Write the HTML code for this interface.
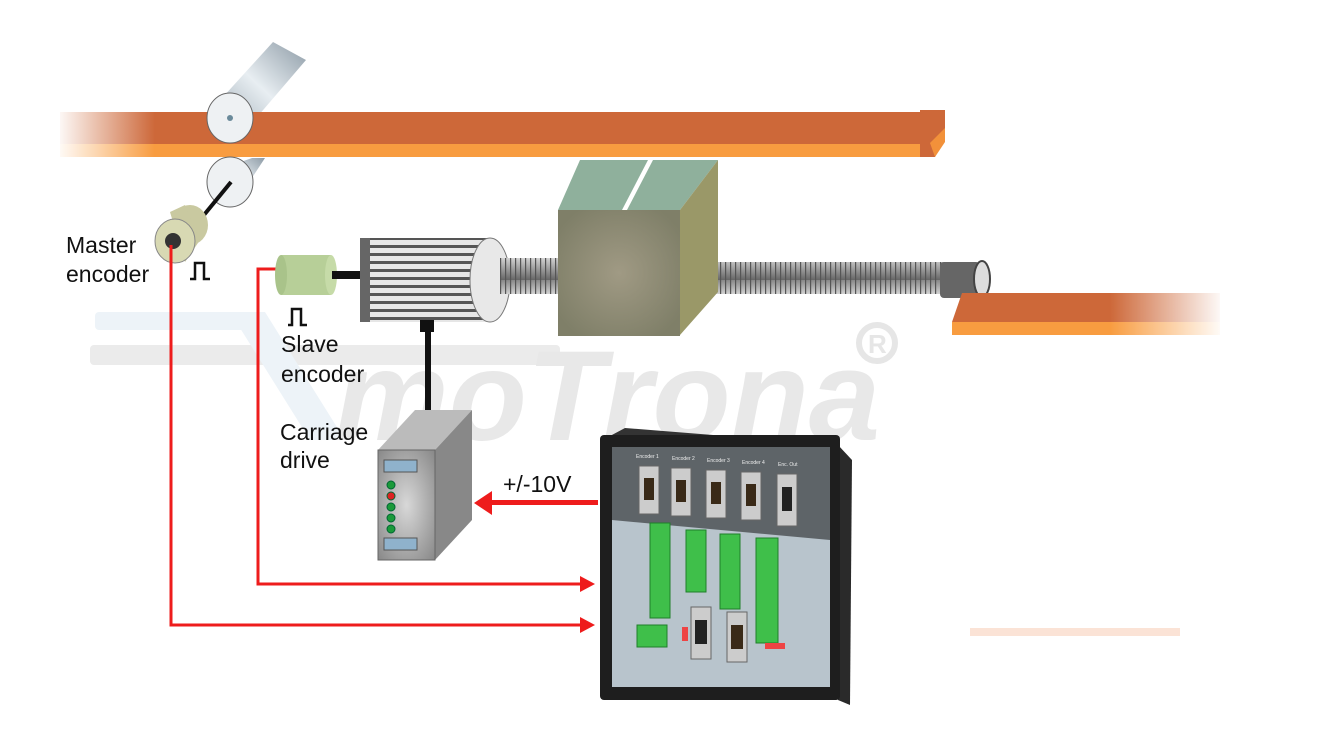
<!DOCTYPE html>
<html><head><meta charset="utf-8"><style>
html,body{margin:0;padding:0;background:#fff;width:1320px;height:738px;overflow:hidden}
text{font-family:"Liberation Sans",sans-serif}
</style></head><body>
<svg width="1320" height="738" viewBox="0 0 1320 738" xmlns="http://www.w3.org/2000/svg">
<defs>
<linearGradient id="fadeL" x1="0" x2="1"><stop offset="0" stop-color="#fff" stop-opacity="1"/><stop offset="1" stop-color="#fff" stop-opacity="0"/></linearGradient>
<linearGradient id="fadeR" x1="0" x2="1"><stop offset="0" stop-color="#fff" stop-opacity="0"/><stop offset="1" stop-color="#fff" stop-opacity="1"/></linearGradient>
<linearGradient id="roll" x1="0" y1="1" x2="1" y2="0"><stop offset="0" stop-color="#9aa8b2"/><stop offset=".5" stop-color="#e8eef2"/><stop offset="1" stop-color="#8d9ba6"/></linearGradient>
<linearGradient id="screw" x1="0" y1="0" x2="0" y2="1"><stop offset="0" stop-color="#888"/><stop offset=".4" stop-color="#ddd"/><stop offset="1" stop-color="#666"/></linearGradient>
<radialGradient id="box" cx=".5" cy=".5" r=".6"><stop offset="0" stop-color="#a09a84"/><stop offset="1" stop-color="#7f7f68"/></radialGradient>
<radialGradient id="drv" cx=".5" cy=".5" r=".7"><stop offset="0" stop-color="#d8d8d8"/><stop offset="1" stop-color="#888"/></radialGradient>
<pattern id="rib" width="5" height="40" patternUnits="userSpaceOnUse"><rect width="5" height="40" fill="url(#screw)"/><rect width="1.2" height="40" fill="#555"/></pattern>
<pattern id="fins" width="6" height="8" patternUnits="userSpaceOnUse"><rect width="6" height="8" fill="#e6e6e6"/><rect y="5" width="6" height="3" fill="#555"/></pattern>
</defs>

<!-- watermark -->
<g>
<rect x="90" y="345" width="470" height="20" rx="4" fill="#ebebeb"/>
<rect x="95" y="312" width="150" height="18" fill="#edf3f8" rx="4"/>
<polygon points="230,312 265,312 345,440 310,440" fill="#edf3f8"/>
<text x="335" y="440" font-size="128" font-weight="bold" font-style="italic" fill="#e8e8e8" textLength="545" lengthAdjust="spacingAndGlyphs">moTrona</text>
<circle cx="877" cy="343" r="18" fill="none" stroke="#e6e6e6" stroke-width="6"/>
<text x="868" y="353" font-size="26" font-weight="bold" fill="#e6e6e6">R</text>
</g>
<rect x="970" y="628" width="210" height="8" fill="#fbe3d6"/>

<!-- top roller -->
<polygon points="213,108 273,42 306,60 246,130" fill="url(#roll)"/>
<!-- top bar -->
<rect x="60" y="112" width="875" height="32" fill="#cd6839"/>
<rect x="60" y="144" width="875" height="13" fill="#f89c40"/>
<polygon points="920,110 945,110 945,130 935,157 920,157" fill="#cd6839"/>
<polygon points="930,143 945,128 945,142 935,157" fill="#f2913a"/>
<rect x="55" y="108" width="100" height="52" fill="url(#fadeL)"/>
<ellipse cx="230" cy="118" rx="23" ry="25" fill="#eef1f3" stroke="#666"/>
<circle cx="230" cy="118" r="3" fill="#6a8a9a"/>
<!-- bottom roller -->
<polygon points="218,170 252,158 265,158 240,196" fill="url(#roll)"/>
<ellipse cx="230" cy="182" rx="23" ry="25" fill="#eef1f3" stroke="#666"/>
<line x1="231" y1="182" x2="190" y2="232" stroke="#111" stroke-width="4"/>
<!-- master encoder -->
<ellipse cx="190" cy="225" rx="18" ry="20" fill="#c9c9a0"/>
<polygon points="170,212 185,205 200,240 185,262" fill="#c9c9a0"/>
<ellipse cx="175" cy="241" rx="20" ry="22" fill="#d8d9b3" stroke="#888"/>
<circle cx="173" cy="241" r="8" fill="#333"/>
<text x="66" y="253" font-size="23" fill="#111">Master</text>
<text x="66" y="282" font-size="23" fill="#111">encoder</text>
<path d="M190,279 h5 v-16 h9 v16 h6" fill="none" stroke="#111" stroke-width="2.5"/>

<!-- red lines -->
<polyline points="171,245 171,625 580,625" fill="none" stroke="#ee1c1c" stroke-width="3"/>
<polygon points="580,617 595,625 580,633" fill="#ee1c1c"/>
<polyline points="278,269 258,269 258,584 580,584" fill="none" stroke="#ee1c1c" stroke-width="3"/>
<polygon points="580,576 595,584 580,592" fill="#ee1c1c"/>

<!-- slave encoder -->
<rect x="281" y="255" width="50" height="40" fill="#b7cf98"/>
<ellipse cx="281" cy="275" rx="6" ry="20" fill="#a9c38a"/>
<ellipse cx="331" cy="275" rx="6" ry="20" fill="#c6dba8"/>
<rect x="332" y="271" width="30" height="8" fill="#111"/>
<path d="M288,325 h4 v-16 h9 v16 h6" fill="none" stroke="#111" stroke-width="2.5"/>
<text x="281" y="352" font-size="23" fill="#111">Slave</text>
<text x="281" y="382" font-size="23" fill="#111">encoder</text>

<!-- motor -->
<rect x="360" y="238" width="130" height="84" fill="url(#fins)"/>
<rect x="360" y="238" width="10" height="84" fill="#666"/>
<ellipse cx="490" cy="280" rx="20" ry="42" fill="#e8e8e8" stroke="#777"/>
<rect x="420" y="320" width="14" height="12" fill="#111"/>
<rect x="425" y="330" width="6" height="90" fill="#111"/>
<rect x="421" y="410" width="14" height="12" fill="#111"/>

<!-- screw -->
<rect x="500" y="258" width="60" height="36" fill="url(#rib)"/>
<rect x="690" y="262" width="260" height="32" fill="url(#rib)"/>
<rect x="940" y="262" width="40" height="36" fill="#666" rx="4"/>
<ellipse cx="982" cy="279" rx="8" ry="18" fill="#ddd" stroke="#444" stroke-width="2"/>

<!-- carriage box -->
<polygon points="558,210 580,160 718,160 680,210" fill="#8fb09c"/>
<polygon points="622,210 648,160 653,160 627,210" fill="#fff"/>
<polygon points="680,210 718,160 718,292 680,335" fill="#9a9868"/>
<rect x="558" y="210" width="122" height="126" fill="url(#box)"/>

<!-- lower right bar -->
<polygon points="962,293 1220,293 1220,322 952,322" fill="#cd6839"/>
<rect x="952" y="322" width="268" height="13" fill="#f89c40"/>
<rect x="1110" y="290" width="115" height="50" fill="url(#fadeR)"/>

<!-- carriage drive -->
<text x="280" y="440" font-size="23" fill="#111">Carriage</text>
<text x="280" y="468" font-size="23" fill="#111">drive</text>
<polygon points="378,450 415,410 472,410 435,450" fill="#bbb"/>
<polygon points="435,450 472,410 472,520 435,560" fill="#888"/>
<rect x="378" y="450" width="57" height="110" fill="url(#drv)" stroke="#666"/>
<rect x="384" y="460" width="33" height="12" fill="#8fb2cc" stroke="#555"/>
<rect x="384" y="538" width="33" height="12" fill="#8fb2cc" stroke="#555"/>
<g stroke="#063"><circle cx="391" cy="485" r="4" fill="#1a9a3a"/><circle cx="391" cy="496" r="4" fill="#d22"/><circle cx="391" cy="507" r="4" fill="#1a9a3a"/><circle cx="391" cy="518" r="4" fill="#1a9a3a"/><circle cx="391" cy="529" r="4" fill="#1a9a3a"/></g>

<!-- +/-10V arrow -->
<text x="503" y="492" font-size="23" fill="#111">+/-10V</text>
<rect x="490" y="500" width="108" height="5" fill="#ee1c1c"/>
<polygon points="474,503 492,491 492,515" fill="#ee1c1c"/>

<!-- controller -->
<polygon points="610,436 625,428 838,445 838,460" fill="#333"/>
<polygon points="838,445 852,460 850,705 838,700" fill="#2a2a2a"/>
<rect x="600" y="435" width="240" height="265" fill="#1e1e1e" rx="4"/>
<rect x="612" y="447" width="218" height="240" fill="#5e6468"/>
<polygon points="612,520 830,540 830,687 612,687" fill="#b8c4cc"/>
<g fill="#ccc" stroke="#666">
<rect x="639" y="466" width="20" height="48"/><rect x="671" y="468" width="20" height="48"/><rect x="706" y="470" width="20" height="48"/><rect x="741" y="472" width="20" height="48"/><rect x="777" y="474" width="20" height="52"/>
<rect x="691" y="607" width="20" height="52"/><rect x="727" y="612" width="20" height="50"/>
</g>
<g fill="#3a2a18"><rect x="644" y="478" width="10" height="22"/><rect x="676" y="480" width="10" height="22"/><rect x="711" y="482" width="10" height="22"/><rect x="746" y="484" width="10" height="22"/><rect x="782" y="487" width="10" height="24" fill="#222"/><rect x="695" y="620" width="12" height="24" fill="#222"/><rect x="731" y="625" width="12" height="24"/></g>
<g fill="#3fbf4a" stroke="#1f7f2a">
<rect x="650" y="523" width="20" height="95"/><rect x="686" y="530" width="20" height="62"/><rect x="720" y="534" width="20" height="75"/><rect x="756" y="538" width="22" height="105"/>
<rect x="637" y="625" width="30" height="22"/>
</g>
<g fill="#e44"><rect x="682" y="627" width="6" height="14"/><rect x="765" y="643" width="20" height="6"/></g>
<g fill="#eee" font-size="5"><text x="636" y="458">Encoder 1</text><text x="672" y="460">Encoder 2</text><text x="707" y="462">Encoder 3</text><text x="742" y="464">Encoder 4</text><text x="778" y="466">Enc. Out</text></g>
</svg>
</body></html>
